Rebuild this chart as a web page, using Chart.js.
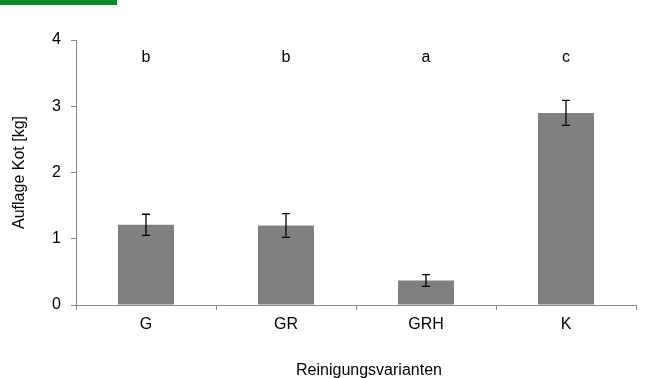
<!DOCTYPE html>
<html><head><meta charset="utf-8">
<script src="https://cdn.jsdelivr.net/npm/chart.js@4"></script>
<style>html,body{margin:0;padding:0;background:#fff}#wrap{position:relative;width:647px;height:378px}
#bar{position:absolute;left:0;top:0;width:117px;height:5px;background:#11892a}</style>
</head><body><div id="wrap"><div id="bar"></div><canvas id="c" width="647" height="378"></canvas></div>
<script>
const categories = ["G", "GR", "GRH", "K"];
const values = [1.21, 1.20, 0.37, 2.90];
const errors = [0.16, 0.18, 0.09, 0.19];
const letters = ["b", "b", "a", "c"];
const letterLevel = 3.67;
const yTicks = [0, 1, 2, 3, 4];
const xTitle = "Reinigungsvarianten";

const FONT = "'Liberation Sans', Arial, sans-serif";

const extras = {
  id: 'extras',
  afterDatasetsDraw(chart) {
    const ctx = chart.ctx, x = chart.scales.x, y = chart.scales.y;
    ctx.save();
    ctx.strokeStyle = '#000'; ctx.lineWidth = 1.3;
    values.forEach((v, i) => {
      const px = x.getPixelForValue(i);
      const t = y.getPixelForValue(v + errors[i]);
      const b = y.getPixelForValue(v - errors[i]);
      ctx.beginPath();
      ctx.moveTo(px, t); ctx.lineTo(px, b);
      ctx.moveTo(px - 4, t); ctx.lineTo(px + 4, t);
      ctx.moveTo(px - 4, b); ctx.lineTo(px + 4, b);
      ctx.stroke();
    });
    ctx.fillStyle = '#000'; ctx.font = '16px ' + FONT;
    ctx.textAlign = 'center'; ctx.textBaseline = 'alphabetic';
    letters.forEach((l, i) => {
      ctx.fillText(l, x.getPixelForValue(i), y.getPixelForValue(letterLevel));
    });
    const ca = chart.chartArea;
    ctx.fillText(xTitle, (ca.left + ca.right) / 2 + 13, chart.height - 3);
    ctx.restore();
  }
};

new Chart(document.getElementById('c'), {
  type: 'bar',
  data: { labels: categories, datasets: [{ data: values, backgroundColor: '#808080', borderWidth: 0, categoryPercentage: 0.4, barPercentage: 1.0 }] },
  options: {
    responsive: false, animation: false,
    layout: { padding: { left: 0, right: 11, top: 40, bottom: 0 } },
    plugins: { legend: { display: false }, tooltip: { enabled: false } },
    scales: {
      x: {
        afterFit(s) { s.height = 73; },
        grid: { offset: true, drawOnChartArea: false, drawTicks: true, tickLength: 5, color: '#898989' },
        border: { color: '#898989', width: 1 },
        ticks: { color: '#000', font: { size: 16, family: FONT }, padding: 5 }
      },
      y: {
        min: 0, max: 4,
        afterFit(s) { s.width = 76; },
        afterBuildTicks(s) { s.ticks = yTicks.map(v => ({ value: v })); },
        grid: { drawOnChartArea: false, drawTicks: true, tickLength: 5, color: '#898989' },
        border: { color: '#898989', width: 1 },
        ticks: { color: '#000', font: { size: 16, family: FONT }, padding: 10 },
        title: { display: true, text: 'Auflage Kot [kg]', color: '#000', font: { size: 16, family: FONT }, padding: { top: 10, bottom: 0 } }
      }
    }
  },
  plugins: [extras]
});
</script></body></html>
